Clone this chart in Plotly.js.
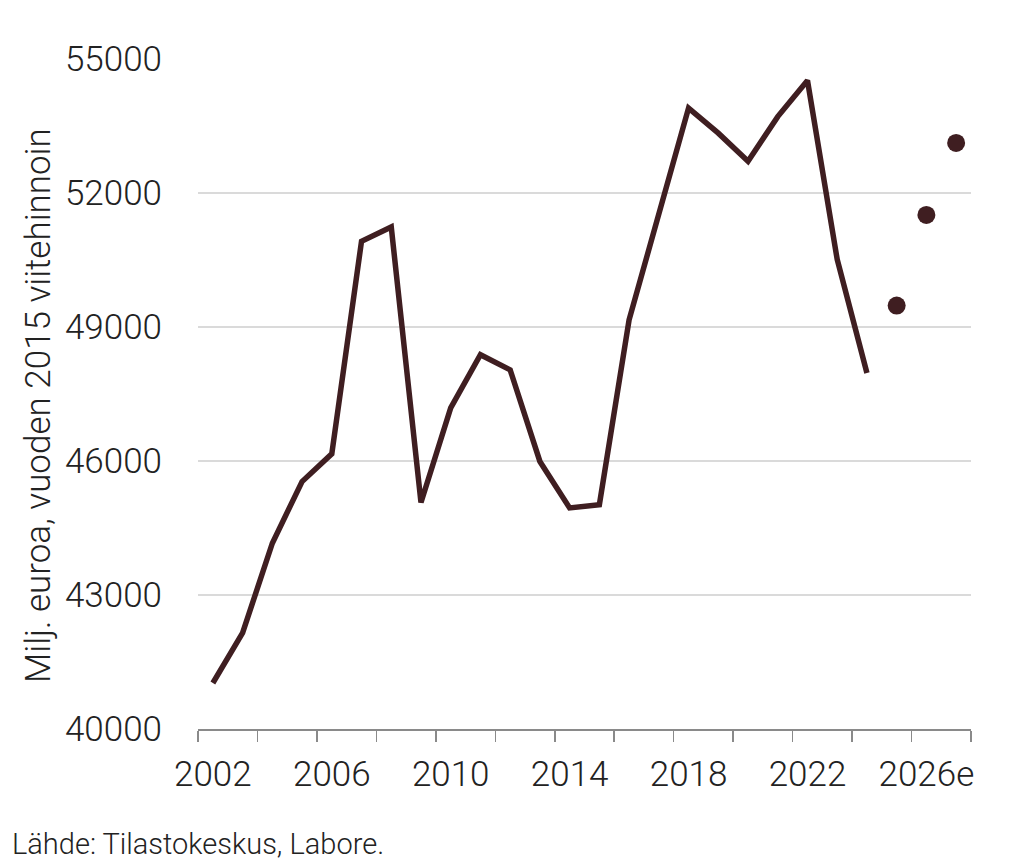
<!DOCTYPE html>
<html>
<head>
<meta charset="utf-8">
<script src="https://cdn.plot.ly/plotly-3.0.1.min.js"></script>
<style>
  html, body { margin: 0; padding: 0; background: #fff; }
  #chart { width: 1024px; height: 864px; }
</style>
</head>
<body>
<div id="chart"></div>
<script>
  // toteutuneet vuodet
  const years = [2002, 2003, 2004, 2005, 2006, 2007, 2008, 2009, 2010, 2011, 2012,
    2013, 2014, 2015, 2016, 2017, 2018, 2019, 2020, 2021, 2022, 2023, 2024];
  const values = [41030, 42150, 44160, 45540, 46160, 50920, 51240, 45070, 47190, 48380, 48040,
    45990, 44950, 45020, 49160, 51550, 53900, 53340, 52710, 53710, 54520, 50510, 47970];

  // ennusteet
  const forecastYears = [2025, 2026, 2027];
  const forecastValues = [49480, 51510, 53120];

  const tickYears = [2002, 2006, 2010, 2014, 2018, 2022, 2026];
  const tickLabels = ['2002', '2006', '2010', '2014', '2018', '2022', '2026e'];
  const yTicks = [40000, 43000, 46000, 49000, 52000, 55000];

  const ink = '#3f1e21';
  const textColor = '#222222';
  const font = {family: 'Roboto, sans-serif', weight: 300, color: textColor};

  // plot area in pixels, used to place the free texts
  const plotL = 198, plotR = 971, plotT = 59, plotB = 729;
  const px = x => (x - plotL) / (plotR - plotL);
  const py = y => (plotB - y) / (plotB - plotT);

  // tick marks sit on the boundaries between every second year
  let boundaries = [];
  for (let y = years[0] - 0.5; y <= forecastYears[forecastYears.length - 1] + 0.5; y += 2)
    boundaries.push(y);

  let traces = [
    {
      type: 'scatter',
      mode: 'lines',
      x: years,
      y: values,
      line: {color: ink, width: 5.5, shape: 'linear'},
      cliponaxis: false,
      hoverinfo: 'x+y',
    },
    {
      type: 'scatter',
      mode: 'markers',
      x: forecastYears,
      y: forecastValues,
      marker: {color: ink, size: 18},
      cliponaxis: false,
      hoverinfo: 'x+y',
    }
  ];

  let layout = {
    width: 1024,
    height: 864,
    margin: {l: plotL, r: 1024 - plotR, t: plotT, b: 864 - plotB, pad: 0},
    paper_bgcolor: '#ffffff',
    plot_bgcolor: '#ffffff',
    showlegend: false,
    font: Object.assign({size: 35}, font),
    xaxis: {
      range: [boundaries[0], boundaries[boundaries.length - 1]],
      tickmode: 'array',
      tickvals: tickYears,
      ticktext: tickLabels,
      ticks: '',
      showgrid: false,
      zeroline: false,
      showline: true,
      linecolor: '#8a8a8a',
      linewidth: 1.5,
      tickfont: Object.assign({size: 35}, font),
      ticklabelstandoff: 13,
      minor: {
        tickmode: 'array',
        tickvals: boundaries,
        ticks: 'outside',
        ticklen: 11,
        tickwidth: 1.5,
        tickcolor: '#8a8a8a',
        showgrid: false,
      },
      fixedrange: true,
    },
    yaxis: {
      range: [40000, 55000],
      tickmode: 'array',
      tickvals: yTicks,
      ticktext: yTicks.map(String),
      ticks: '',
      showline: false,
      zeroline: false,
      showgrid: true,
      gridcolor: '#dadada',
      gridwidth: 1.2,
      tickfont: Object.assign({size: 35}, font),
      ticklabelstandoff: 35,
      fixedrange: true,
    },
    annotations: [
      {
        // y-akselin otsikko
        text: 'Milj. euroa, vuoden 2015 viitehinnoin',
        xref: 'paper', yref: 'paper',
        x: px(38), y: py(406),
        xanchor: 'center', yanchor: 'middle',
        textangle: -90,
        showarrow: false,
        font: Object.assign({size: 35}, font),
      },
      {
        text: 'Lähde: Tilastokeskus, Labore.',
        xref: 'paper', yref: 'paper',
        x: px(10), y: py(844),
        xanchor: 'left', yanchor: 'middle',
        showarrow: false,
        font: Object.assign({size: 29}, font),
      }
    ],
  };

  Plotly.newPlot('chart', traces, layout, {displayModeBar: false, staticPlot: true});
</script>
</body>
</html>
